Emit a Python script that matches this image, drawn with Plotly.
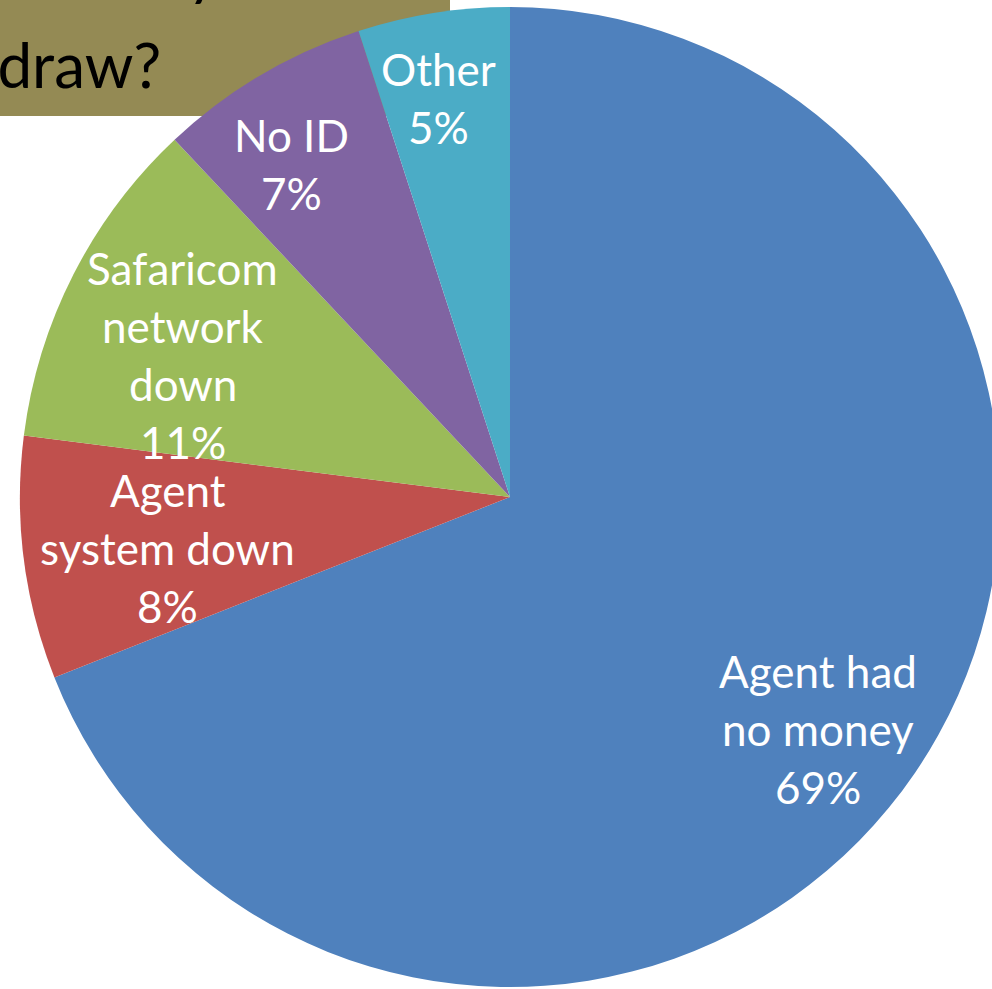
import math
import plotly.graph_objects as go

# Reasons a withdrawal could not be completed (share of responses, %)
reasons = ["Agent had no money", "Agent system down", "Safaricom network down", "No ID", "Other"]
label_lines = [["Agent had", "no money"], ["Agent", "system down"], ["Safaricom", "network", "down"], ["No ID"], ["Other"]]
shares = [69, 8, 11, 7, 5]
colors = ["#4F81BD", "#C0504D", "#9BBB59", "#8064A2", "#4BACC6"]

# label placement inside each slice: fraction of radius and small angular nudge (degrees)
label_radius = [0.787, 0.706, 0.728, 0.813, 0.828]
label_nudge_deg = [2.8, -1.3, -3.5, -2.7, -1.2]

W, H = 1000, 989
cx, cy, R = 510, 497, 490
FONT = "Lato"
LABEL_SIZE = 44
LINE_GAP = 58

fig = go.Figure(go.Pie(
    labels=reasons,
    values=shares,
    sort=False,
    direction="clockwise",
    rotation=0,
    marker=dict(colors=colors, line=dict(width=0)),
    textinfo="none",
    hoverinfo="label+percent",
    showlegend=False,
    domain=dict(x=[(cx - R) / W, (cx + R) / W], y=[1 - (cy + R) / H, 1 - (cy - R) / H]),
))

annotations = []
total = sum(shares)
start = 0.0
for name_lines, v, frac, nudge in zip(label_lines, shares, label_radius, label_nudge_deg):
    mid = (start + v / 2) / total * 2 * math.pi + math.radians(nudge)
    start += v
    px = cx + frac * R * math.sin(mid)
    py = cy - frac * R * math.cos(mid)
    lines = name_lines + [f"{round(v / total * 100)}%"]
    n = len(lines)
    for i, line in enumerate(lines):
        annotations.append(dict(
            x=px / W, y=1 - py / H, xref="paper", yref="paper",
            text=line, showarrow=False, xanchor="center", yanchor="middle",
            yshift=-(i - (n - 1) / 2) * LINE_GAP,
            font=dict(family=FONT, size=LABEL_SIZE, color="white"),
        ))

# heading box in the top-left corner (sits behind the pie)
annotations.append(dict(
    x=290 / W, y=1 - (-31) / H, xref="paper", yref="paper",
    text="Why couldn't you", showarrow=False, xanchor="right", yanchor="middle",
    font=dict(family=FONT, size=62, color="black"),
))
annotations.append(dict(
    x=163 / W, y=1 - 64 / H, xref="paper", yref="paper",
    text="withdraw?", showarrow=False, xanchor="right", yanchor="middle",
    font=dict(family=FONT, size=62, color="black"),
))

fig.update_layout(
    width=W, height=H,
    margin=dict(l=0, r=0, t=0, b=0),
    paper_bgcolor="white", plot_bgcolor="white",
    shapes=[dict(type="rect", xref="paper", yref="paper",
                 x0=-0.02, x1=450 / W, y0=1 - 116 / H, y1=1.02,
                 fillcolor="#948A54", line=dict(width=0), layer="below")],
    annotations=annotations,
)

fig.write_html("out.html")
